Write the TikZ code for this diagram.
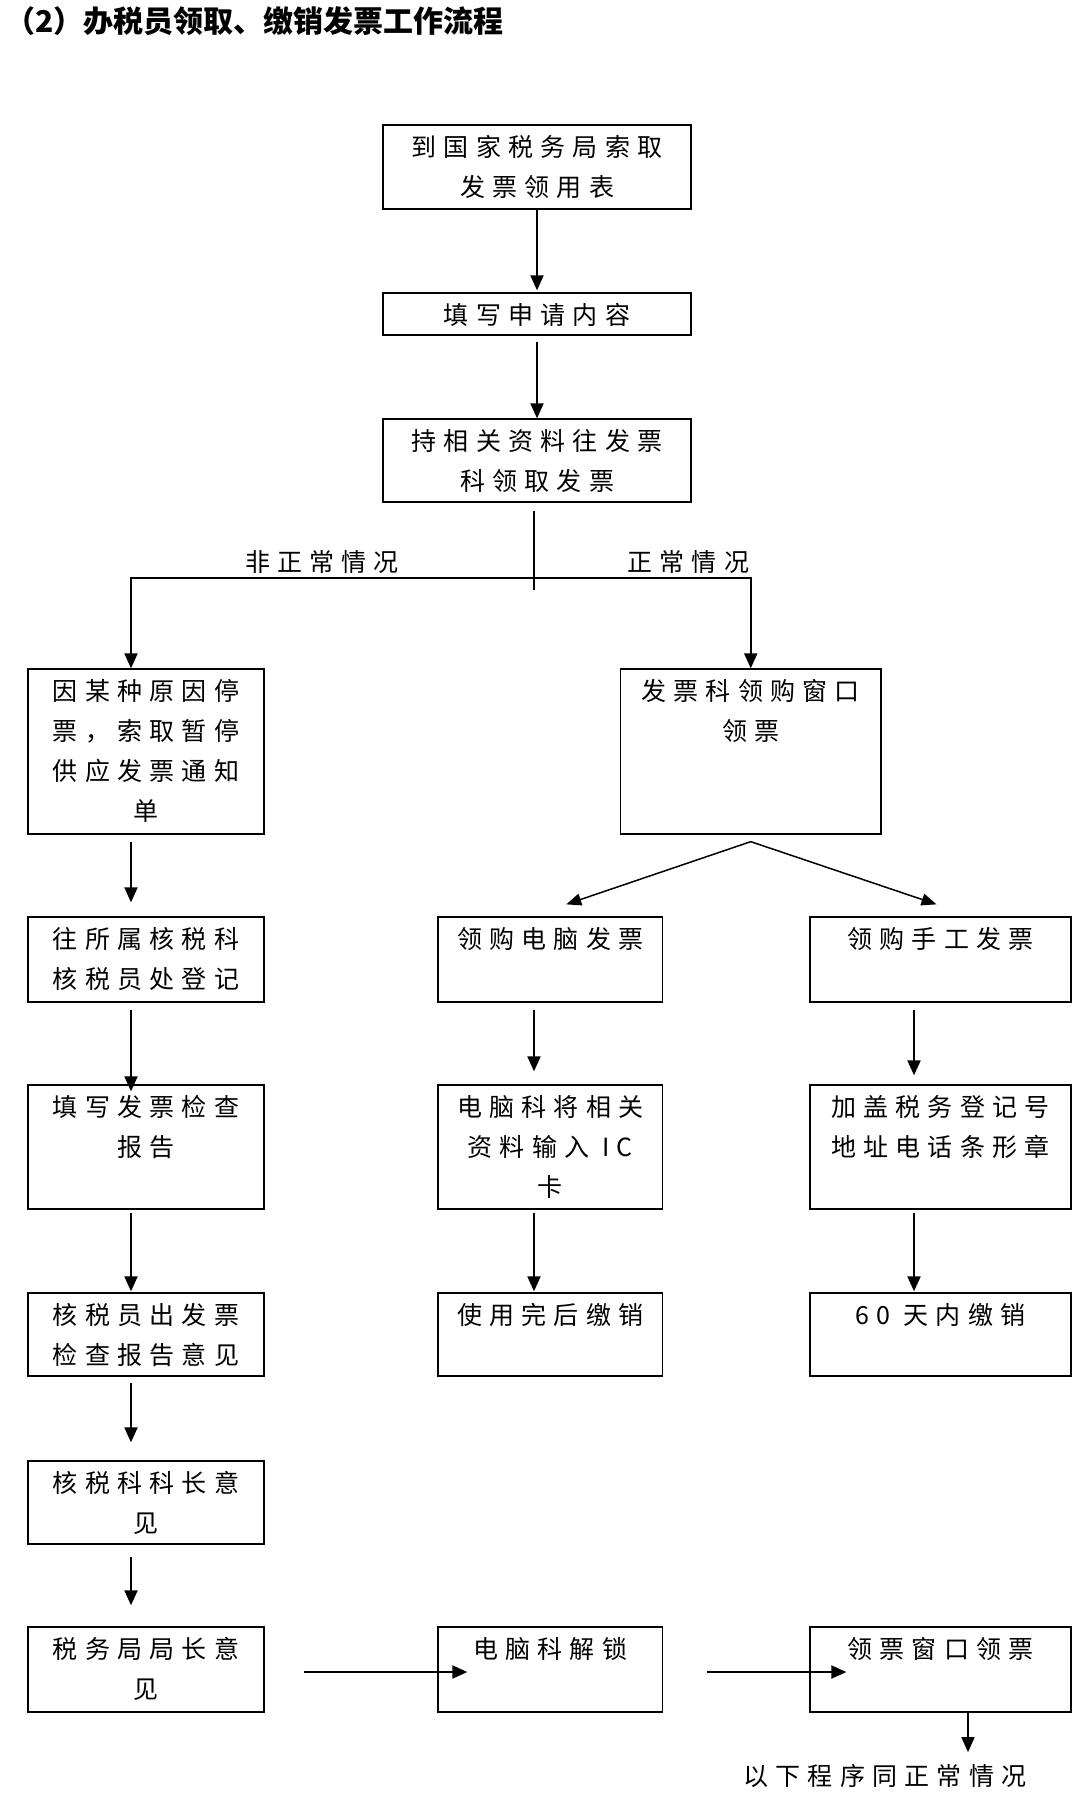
\documentclass[tikz,border=0pt]{standalone}
\usepackage{fontspec}
\setmainfont{Noto Sans CJK SC}
\newfontfamily\kastenfont[LetterSpace=29]{Noto Sans CJK SC}
\usepackage{tikz}
\usetikzlibrary{arrows.meta, positioning}

\begin{document}
\begin{tikzpicture}[x=1pt, y=-1pt,
    box/.style={draw, line width=1.3pt, inner sep=0pt},
    txt/.style={font=\kastenfont\fontsize{25}{40}\selectfont, align=center, inner sep=0pt},
    pfeil/.style={line width=2pt, -{Triangle[length=15pt, width=13pt]}},
    schraeg/.style={line width=1.5pt, -{Triangle[length=15pt, width=12pt]}}]
        \path[fill=white] (0,0) rectangle (1080,1796);
        \useasboundingbox (0,0) rectangle (1080,1796);

        % Titel
        \node[anchor=west, inner sep=0pt, font=\fontsize{30}{36}\selectfont\bfseries] (titel) at (5,21) {（2）办税员领取、缴销发票工作流程};

        % --- Kette oben ---
        \node[box, minimum width=308pt, minimum height=84pt] (b1) at (537,167) {};
        \node[txt, below=10.5pt of b1.north] (t1) {到国家税务局索取\\发票领用表};
        \node[box, minimum width=308pt, minimum height=42pt] (b2) at (537,314) {};
        \node[txt, below=10.5pt of b2.north] (t2) {填写申请内容};
        \node[box, minimum width=308pt, minimum height=83pt] (b3) at (537,460.5) {};
        \node[txt, below=10.5pt of b3.north] (t3) {持相关资料往发票\\科领取发票};

        \draw[pfeil] (b1.south) -- ([yshift=2pt]b2.north);
        \draw[pfeil] ([yshift=-6pt]b2.south) -- (b3.north);

        % Verzweigung
        \coordinate (gabel) at (534,578);
        \draw[line width=1.3pt] ([yshift=-8pt]b3.south -| gabel) -- ([yshift=-12pt]gabel);

        % --- linker Zweig (nicht normal) ---
        \node[box, minimum width=236pt, minimum height=165pt] (b4) at (146,751.5) {};
        \node[txt, below=10.5pt of b4.north] (t4) {因某种原因停\\票，索取暂停\\供应发票通知\\单};
        \node[box, minimum width=236pt, minimum height=85pt] (b6) at (146,959.5) {};
        \node[txt, below=10.5pt of b6.north] (t6) {往所属核税科\\核税员处登记};
        \node[box, minimum width=236pt, minimum height=124pt] (b9) at (146,1147) {};
        \node[txt, below=10.5pt of b9.north] (t9) {填写发票检查\\报告};
        \node[box, minimum width=236pt, minimum height=83pt] (b12) at (146,1334.5) {};
        \node[txt, below=10.5pt of b12.north] (t12) {核税员出发票\\检查报告意见};
        \node[box, minimum width=236pt, minimum height=83pt] (b15) at (146,1502.5) {};
        \node[txt, below=10.5pt of b15.north] (t15) {核税科科长意\\见};
        \node[box, minimum width=236pt, minimum height=85pt] (b16) at (146,1669.5) {};
        \node[txt, below=10.5pt of b16.north] (t16) {税务局局长意\\见};

        \draw[pfeil] (gabel) -| ([xshift=-15pt]b4.north) node[txt, pos=0.263, above=4pt] (lab1) {非正常情况};
        \draw[pfeil] ([xshift=-15pt, yshift=-7pt]b4.south) -- ([xshift=-15pt, yshift=14pt]b6.north);
        \draw[pfeil] ([xshift=-15pt, yshift=-7pt]b6.south) -- ([xshift=-15pt, yshift=-7pt]b9.north);
        \draw[pfeil] ([xshift=-15pt, yshift=-3pt]b9.south) -- ([xshift=-15pt, yshift=1pt]b12.north);
        \draw[pfeil] ([xshift=-15pt, yshift=-6pt]b12.south) -- ([xshift=-15pt, yshift=18pt]b15.north);
        \draw[pfeil] ([xshift=-15pt, yshift=-12pt]b15.south) -- ([xshift=-15pt, yshift=21pt]b16.north);

        % --- rechter Zweig (normal) ---
        \node[box, minimum width=260.5pt, minimum height=165pt] (b5) at (750.75,751.5) {};
        \node[txt, below=10.5pt of b5.north] (t5) {发票科领购窗口\\领票};
        \draw[pfeil] (gabel) -| (b5.north) node[txt, pos=0.356, above=4pt] (lab2) {正常情况};

        % Computer-Rechnungen
        \node[box, minimum width=224.5pt, minimum height=85pt] (b7) at (550.25,959.5) {};
        \node[txt, below=10.5pt of b7.north] (t7) {领购电脑发票};
        \node[box, minimum width=224.5pt, minimum height=124pt] (b10) at (550.25,1147) {};
        \node[txt, below=10.5pt of b10.north] (t10) {电脑科将相关\\资料输入 IC\\卡};
        \node[box, minimum width=224.5pt, minimum height=83pt] (b13) at (550.25,1334.5) {};
        \node[txt, below=10.5pt of b13.north] (t13) {使用完后缴销};

        % Handrechnungen
        \node[box, minimum width=261pt, minimum height=85pt] (b8) at (940.5,959.5) {};
        \node[txt, below=10.5pt of b8.north] (t8) {领购手工发票};
        \node[box, minimum width=261pt, minimum height=124pt] (b11) at (940.5,1147) {};
        \node[txt, below=10.5pt of b11.north] (t11) {加盖税务登记号\\地址电话条形章};
        \node[box, minimum width=261pt, minimum height=83pt] (b14) at (940.5,1334.5) {};
        \node[txt, below=10.5pt of b14.north] (t14) {60 天内缴销};

        \draw[schraeg] ([yshift=-7pt]b5.south) -- ([xshift=16pt, yshift=12pt]b7.north);
        \draw[schraeg] ([yshift=-7pt]b5.south) -- ([xshift=-4pt, yshift=12pt]b8.north);
        \draw[pfeil] ([xshift=-16.25pt, yshift=-7pt]b7.south) -- ([xshift=-16.25pt, yshift=13pt]b10.north);
        \draw[pfeil] ([xshift=-16.25pt, yshift=-3pt]b10.south) -- ([xshift=-16.25pt, yshift=1pt]b13.north);
        \draw[pfeil] ([xshift=-26.5pt, yshift=-7pt]b8.south) -- ([xshift=-26.5pt, yshift=9pt]b11.north);
        \draw[pfeil] ([xshift=-26.5pt, yshift=-3pt]b11.south) -- ([xshift=-26.5pt, yshift=1pt]b14.north);

        % --- untere Reihe ---
        \node[box, minimum width=224.5pt, minimum height=85pt] (b17) at (550.25,1669.5) {};
        \node[txt, below=10.5pt of b17.north] (t17) {电脑科解锁};
        \node[box, minimum width=261pt, minimum height=85pt] (b18) at (940.5,1669.5) {};
        \node[txt, below=10.5pt of b18.north] (t18) {领票窗口领票};
        \node[txt] (ende) at (885,1776) {以下程序同正常情况};

        \draw[pfeil] ([xshift=39pt, yshift=-2.5pt]b16.east) -- ([xshift=30pt, yshift=-2.5pt]b17.west);
        \draw[pfeil] ([xshift=43.5pt, yshift=-2.5pt]b17.east) -- ([xshift=37pt, yshift=-2.5pt]b18.west);
        \draw[pfeil, line width=1.5pt] ([xshift=27.5pt]b18.south) -- ([xshift=83pt, yshift=12pt]ende.north);

    \end{tikzpicture}
\end{document}
